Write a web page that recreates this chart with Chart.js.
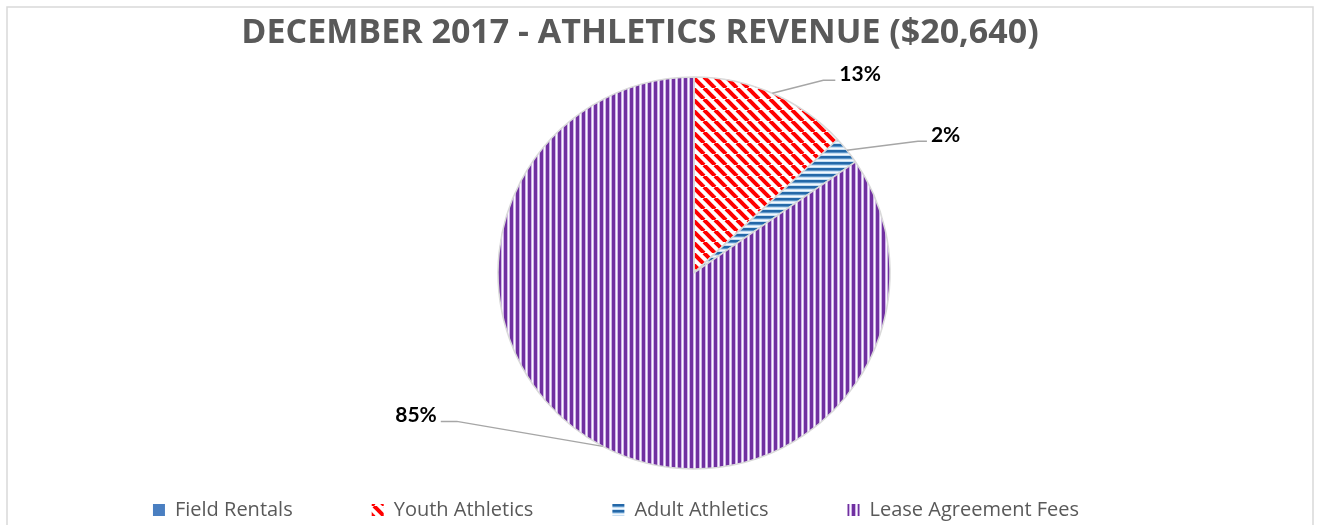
<!DOCTYPE html>
<html>
<head>
<meta charset="utf-8">
<title>December 2017 - Athletics Revenue</title>
<script src="https://cdn.jsdelivr.net/npm/chart.js@4/dist/chart.umd.min.js"></script>
<style>
  html, body { margin: 0; padding: 0; background: #ffffff; }
  #wrap { width: 1320px; height: 525px; }
</style>
</head>
<body>
<div id="wrap"><canvas id="revenue" width="1320" height="525"></canvas></div>
<script>
// Revenue categories and their December 2017 amounts (USD)
const categories = ['Field Rentals', 'Youth Athletics', 'Adult Athletics', 'Lease Agreement Fees'];
const revenue = [0, 2700, 480, 17460];
const chartTitle = 'DECEMBER 2017 - ATHLETICS REVENUE ($20,640)';

// Leader-line geometry per slice: elbow offset from the slice edge and tail length
const leaderStyle = [
  null,
  { dx: 51, dy: -13, tail: 12 },
  { dx: 71, dy: -9, tail: 9 },
  { dx: -146, dy: -25, tail: 16 }
];

// Hatched fills
function makeTile(w, h, paint) {
  const c = document.createElement('canvas');
  c.width = w; c.height = h;
  const g = c.getContext('2d');
  paint(g, w, h);
  return g.createPattern(c, 'repeat');
}
const ctx = document.getElementById('revenue').getContext('2d');

const solidBlue = '#4a7fc1';
const redDiagonal = makeTile(11, 11, (g, w, h) => {
  g.fillStyle = '#ffffff'; g.fillRect(0, 0, w, h);
  g.strokeStyle = '#ff0000'; g.lineWidth = 4;
  for (const x0 of [-w, 0, w]) {
    g.beginPath(); g.moveTo(x0, 0); g.lineTo(x0 + w, h); g.stroke();
  }
});
const blueHorizontal = makeTile(6, 6, (g, w) => {
  const rows = ['#2468a8', '#2468a8', '#5d95c8', '#c6def2', '#f3f8fd', '#c6def2'];
  rows.forEach((col, r) => { g.fillStyle = col; g.fillRect(0, r, w, 1); });
});
const purpleVertical = makeTile(6, 6, (g, w, h) => {
  const cols = ['#7030a0', '#7030a0', '#7030a0', '#cdb2e6', '#fbf8fe', '#cdb2e6'];
  cols.forEach((col, c) => { g.fillStyle = col; g.fillRect(c, 0, 1, h); });
});

const frame = {
  id: 'frame',
  beforeDraw(chart) {
    const c = chart.ctx;
    c.save();
    c.fillStyle = '#ffffff';
    c.fillRect(0, 0, chart.width, chart.height);
    c.strokeStyle = '#d9d9d9';
    c.lineWidth = 1.5;
    c.strokeRect(7, 7, chart.width - 14, chart.height + 20);
    c.restore();
  }
};

// Slide the title and legend blocks sideways relative to the plot area
const shiftBlocks = {
  id: 'shiftBlocks',
  afterLayout(chart, args, opts) {
    const t = chart.titleBlock, l = chart.legend;
    if (t) { t.left += opts.title; t.right += opts.title; }
    if (l) { l.left += opts.legend; l.right += opts.legend; }
  }
};

// Percentage labels with elbow leader lines
const sliceLabels = {
  id: 'sliceLabels',
  afterDatasetsDraw(chart, args, opts) {
    const c = chart.ctx;
    const meta = chart.getDatasetMeta(0);
    const values = chart.data.datasets[0].data;
    const total = values.reduce((a, b) => a + b, 0);
    c.save();
    meta.data.forEach((arc, i) => {
      const v = values[i];
      const s = opts.leaders[i];
      if (!v || !s) return;
      const p = arc.getProps(['x', 'y', 'startAngle', 'endAngle', 'outerRadius'], true);
      const mid = (p.startAngle + p.endAngle) / 2;
      const ex = p.x + Math.cos(mid) * p.outerRadius;
      const ey = p.y + Math.sin(mid) * p.outerRadius;
      const bx = ex + s.dx, by = ey + s.dy;
      const dir = s.dx >= 0 ? 1 : -1;
      const tx = bx + dir * s.tail;
      c.strokeStyle = opts.lineColor;
      c.lineWidth = 1.5;
      c.beginPath();
      c.moveTo(ex, ey); c.lineTo(bx, by); c.lineTo(tx, by);
      c.stroke();
      c.font = opts.font;
      c.fillStyle = opts.color;
      c.textBaseline = 'alphabetic';
      c.textAlign = dir > 0 ? 'left' : 'right';
      c.fillText(Math.round(v / total * 100) + '%', tx + dir * 4, by + 1);
    });
    c.restore();
  }
};

new Chart(ctx, {
  type: 'pie',
  data: {
    labels: categories,
    datasets: [{
      data: revenue,
      backgroundColor: [solidBlue, redDiagonal, blueHorizontal, purpleVertical],
      borderColor: '#d9d9d9',
      borderWidth: 1.5,
      radius: 196
    }]
  },
  plugins: [frame, shiftBlocks, sliceLabels],
  options: {
    responsive: false,
    animation: false,
    devicePixelRatio: 1,
    layout: { padding: { left: 68, right: 0, top: 0, bottom: -5 } },
    plugins: {
      tooltip: { enabled: false },
      title: {
        display: true,
        text: chartTitle,
        color: '#595959',
        font: { family: 'Open Sans', size: 34, weight: 'bold' },
        padding: { top: 13, bottom: 71 }
      },
      legend: {
        display: true,
        position: 'bottom',
        labels: {
          color: '#595959',
          font: { family: 'Open Sans', size: 20 },
          boxWidth: 12,
          boxHeight: 12,
          padding: 79,
          generateLabels(chart) {
            const items = Chart.overrides.pie.plugins.legend.labels.generateLabels(chart);
            return items.map(it => Object.assign(it, { lineWidth: 0 }));
          }
        }
      },
      shiftBlocks: { title: -54, legend: -78 },
      sliceLabels: {
        leaders: leaderStyle,
        lineColor: '#a6a6a6',
        color: '#000000',
        font: 'bold 21px Lato'
      }
    }
  }
});
</script>
</body>
</html>
